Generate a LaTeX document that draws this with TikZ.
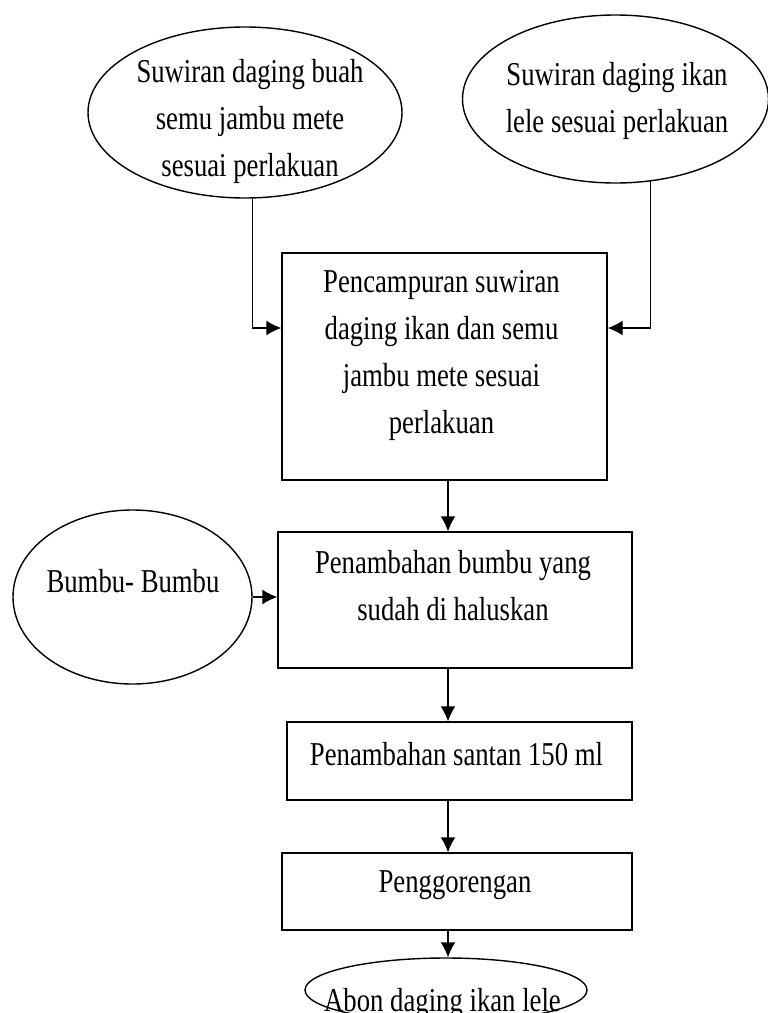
\documentclass[tikz,border=0pt]{standalone}
\usepackage{fontspec}
\setmainfont[FakeStretch=0.8]{Liberation Serif}
\usetikzlibrary{arrows.meta, shapes.geometric}

\begin{document}
\begin{tikzpicture}[>={Latex[length=3mm,width=3mm]}, line width=0.8pt,
  font=\fontsize{19}{26.7}\selectfont,
  box/.style={draw,rectangle,inner sep=0pt},
  oval/.style={draw,ellipse,inner sep=0pt},
  txt/.style={align=center,anchor=north,inner sep=0pt}]
  \useasboundingbox (0,0) rectangle (15.36,-20.26);

  % shapes
  \node (jambu) at (4.90,-2.25) [oval, minimum width=6.28cm, minimum height=3.42cm] {};
  \node (lele) at (12.31,-1.98) [oval, minimum width=6.12cm, minimum height=3.36cm] {};
  \node (campur) at (8.89,-7.33) [box, minimum width=6.5cm, minimum height=4.54cm] {};
  \node (bumbu) at (2.65,-11.94) [oval, minimum width=4.78cm, minimum height=3.48cm] {};
  \node (tambah) at (9.10,-12.00) [box, minimum width=7.08cm, minimum height=2.72cm] {};
  \node (santan) at (9.19,-15.22) [box, minimum width=6.9cm, minimum height=1.56cm] {};
  \node (goreng) at (9.14,-17.83) [box, minimum width=7.0cm, minimum height=1.54cm] {};
  \node (abon) at (8.92,-19.80) [oval, minimum width=5.64cm, minimum height=1.28cm] {};

  % texts
  \node (tjambu) at (5.00,-1.18) [txt] {Suwiran daging buah\\semu jambu mete\\sesuai perlakuan};
  \node (tlele) at (12.34,-1.24) [txt] {Suwiran daging ikan\\lele sesuai perlakuan};
  \node (tcampur) at (8.83,-5.40) [txt] {Pencampuran suwiran\\daging ikan dan semu\\jambu mete sesuai\\perlakuan};
  \node (tbumbu) at (2.66,-11.38) [txt] {Bumbu- Bumbu};
  \node (ttambah) at (9.06,-11.00) [txt] {Penambahan bumbu yang\\sudah di haluskan};
  \node (tsantan) at (9.13,-14.84) [txt] {Penambahan santan 150 ml};
  \node (tgoreng) at (9.10,-17.40) [txt] {Penggorengan};
  \node (tabon) at (8.85,-19.76) [txt] {Abon daging ikan lele};

  \coordinate (mix) at (0,-6.56); % side inputs
  \coordinate (mid) at (8.96,0); % main line

  \draw[->] (jambu.-85) |- (campur.west |- mix);
  \draw[->] (lele.-67) |- (campur.east |- mix);
  \draw[->] (bumbu.east) -- (bumbu.east -| tambah.west);

  \draw[->] (campur.south -| mid) -- (tambah.north -| mid);
  \draw[->] (tambah.south -| mid) -- (santan.north -| mid);
  \draw[->] (santan.south -| mid) -- (goreng.north -| mid);
  \draw[->] (goreng.south -| mid) -- (abon.north -| mid);
\end{tikzpicture}
\end{document}
